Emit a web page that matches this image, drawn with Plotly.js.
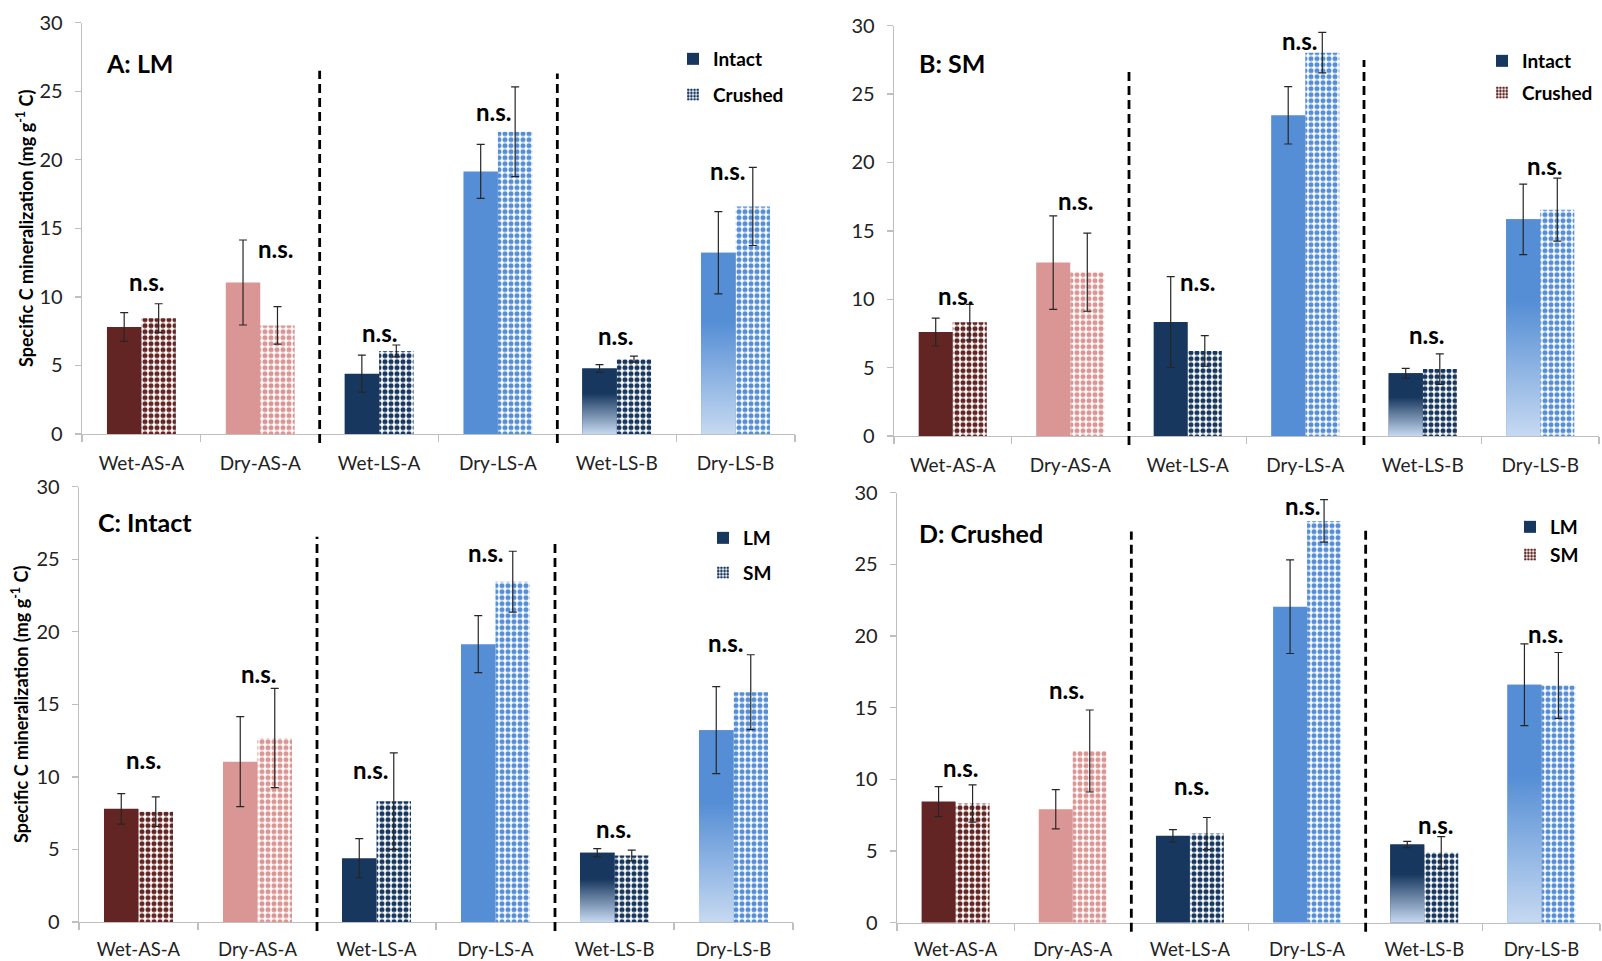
<!DOCTYPE html>
<html><head><meta charset="utf-8">
<script src="https://cdn.plot.ly/plotly-3.0.1.min.js"></script>
<style>html,body{margin:0;padding:0;background:#fff;} #chart{width:1602px;height:961px;}</style>
</head><body><div id="chart"></div>
<script>
// ---------- data ----------
const categories = ['Wet-AS-A','Dry-AS-A','Wet-LS-A','Dry-LS-A','Wet-LS-B','Dry-LS-B'];
const lmIntact     = [7.8, 11.05, 4.4, 19.15, 4.78, 13.22];
const lmIntactErr  = [1.05, 3.1, 1.35, 1.97, 0.28, 3.0];
const lmCrushed    = [8.45, 7.92, 6.06, 22.05, 5.46, 16.6];
const lmCrushedErr = [1.05, 1.37, 0.43, 3.27, 0.22, 2.85];
const smIntact     = [7.6, 12.68, 8.33, 23.45, 4.58, 15.84];
const smIntactErr  = [1.02, 3.42, 3.32, 2.1, 0.37, 2.58];
const smCrushed    = [8.32, 11.98, 6.22, 28.03, 4.89, 16.55];
const smCrushedErr = [1.3, 2.86, 1.12, 1.48, 1.12, 2.3];
const yTicks = [0, 5, 10, 15, 20, 25, 30];
const sigLabel = 'n.s.';

// ---------- styling ----------
const W = 1602, H = 961;
const FONT = 'Lato, "Open Sans", sans-serif';
const catColors = ['#632523', '#D99694', '#17375E', '#558ED5', '#17375E', '#558ED5'];
const gradientCats = [false, false, false, false, true, true];
const LIGHT = '#C6D9F1';
const AXC = '#BFBFBF';
const BW = 0.29;

const panels = [
  {sfx:'', title:'A: LM', s1:lmIntact, e1:lmIntactErr, s2:lmCrushed, e2:lmCrushedErr,
   n1:'Intact', n2:'Crushed', legColor:'#17375E', legend:'legend',
   xpx:[82, 795], ypx:[434, 22.7], titlePx:[104, 63], ytitlePx:[25, 229], catFont:19, catStand:12,
   nsX:[0.04, 0.125, 0.0, -0.04, -0.01, -0.07], nsY:[11.1, 13.5, 7.4, 23.5, 7.15, 19.2], sepTop:[26.5, 26.3]},
  {sfx:'2', title:'B: SM', s1:smIntact, e1:smIntactErr, s2:smCrushed, e2:smCrushedErr,
   n1:'Intact', n2:'Crushed', legColor:'#632523', legend:'legend2',
   xpx:[894, 1599], ypx:[436, 25.7], titlePx:[917, 63], ytitlePx:null, catFont:19, catStand:12,
   nsX:[0.02, 0.045, 0.087, -0.05, 0.03, 0.04], nsY:[10.3, 17.2, 11.3, 28.95, 7.43, 19.76], sepTop:[26.9, 27.5]},
  {sfx:'3', title:'C: Intact', s1:lmIntact, e1:lmIntactErr, s2:smIntact, e2:smIntactErr,
   n1:'LM', n2:'SM', legColor:'#17375E', legend:'legend3',
   xpx:[79, 793], ypx:[922, 486.7], titlePx:[96, 522], ytitlePx:[20, 705], catFont:18.5, catStand:10,
   nsX:[0.04, 0.01, -0.05, -0.085, -0.01, -0.07], nsY:[11.2, 17.1, 10.5, 25.5, 6.46, 19.25], sepTop:[26.55, 26.3]},
  {sfx:'4', title:'D: Crushed', s1:lmCrushed, e1:lmCrushedErr, s2:smCrushed, e2:smCrushedErr,
   n1:'LM', n2:'SM', legColor:'#632523', legend:'legend4',
   xpx:[897, 1600], ypx:[922.7, 492.7], titlePx:[917, 533], ytitlePx:null, catFont:18.5, catStand:10,
   nsX:[0.046, -0.053, 0.016, -0.042, 0.094, 0.034], nsY:[10.8, 16.25, 9.55, 29.1, 6.82, 20.2], sepTop:[27.3, 27.5]}
];
const legendPos = {
  legend:  {textX:713,  top:40,  gap:8},
  legend2: {textX:1522, top:42,  gap:4},
  legend3: {textX:743,  top:519, gap:7},
  legend4: {textX:1550, top:508, gap:0}
};

const idx = categories.map((c, i) => i);
const traces = [];
const layout = {
  width: W, height: H, margin: {l:0, r:0, t:0, b:0},
  paper_bgcolor: '#fff', plot_bgcolor: 'rgba(0,0,0,0)',
  barmode: 'overlay', showlegend: true,
  font: {family: FONT, color: '#222'},
  annotations: [], shapes: []
};

panels.forEach(p => {
  const xa = 'x' + p.sfx, ya = 'y' + p.sfx;
  const xd = [p.xpx[0] / W, p.xpx[1] / W];
  const yd = [1 - p.ypx[0] / H, 1 - p.ypx[1] / H];
  const pxX = v => xd[0] + (v + 0.5) / 6 * (xd[1] - xd[0]);
  const pxY = v => yd[0] + v / 30 * (yd[1] - yd[0]);

  traces.push({type:'bar', x: idx, y: p.s1, xaxis: xa, yaxis: ya, offset: -BW, width: BW,
    marker: {color: catColors, line: {width: 0}}, showlegend: false, hoverinfo: 'skip'});
  traces.push({type:'bar', x: idx, y: p.s2, xaxis: xa, yaxis: ya, offset: 0, width: BW,
    marker: {color: catColors, line: {width: 0},
      pattern: {shape: '.', size: 6, solidity: 0.55, fgcolor: catColors, bgcolor: '#ffffff', fillmode: 'replace'}},
    showlegend: false, hoverinfo: 'skip'});
  idx.forEach(i => {
    if (!gradientCats[i]) return;
    const v = p.s1[i];
    traces.push({type:'scatter', mode:'lines', xaxis: xa, yaxis: ya,
      x: [i - BW, i - BW, i, i, i - BW], y: [0, v, v, 0, 0],
      fill: 'toself', line: {width: 0, color: catColors[i]},
      fillgradient: {type: 'vertical', colorscale: [[0, LIGHT], [0.62, catColors[i]], [1, catColors[i]]], start: 0, stop: v},
      showlegend: false, hoverinfo: 'skip'});
  });
  [[p.s1, p.e1, -BW / 2], [p.s2, p.e2, BW / 2]].forEach(([s, e, off]) => {
    traces.push({type:'scatter', mode:'markers', xaxis: xa, yaxis: ya,
      x: idx.map(i => i + off), y: s,
      marker: {size: 1, color: 'rgba(0,0,0,0)'},
      error_y: {type: 'data', array: e, visible: true, color: '#262626', thickness: 1.2, width: 4},
      showlegend: false, hoverinfo: 'skip'});
  });
  traces.push({type:'bar', x:[null], y:[null], xaxis: xa, yaxis: ya, name: '<b>' + p.n1 + '</b>',
    marker: {color: '#17375E', line: {width: 0}}, legend: p.legend, legendgroup: p.legend + 'a', hoverinfo: 'skip'});
  traces.push({type:'bar', x:[null], y:[null], xaxis: xa, yaxis: ya, name: '<b>' + p.n2 + '</b>',
    marker: {color: p.legColor, line: {width: 0},
      pattern: {shape: '.', size: 4, solidity: 0.55, fgcolor: p.legColor, bgcolor: '#ffffff', fillmode: 'replace'}},
    legend: p.legend, legendgroup: p.legend + 'b', hoverinfo: 'skip'});

  const lp = legendPos[p.legend];
  layout[p.legend] = {x: (lp.textX - 40) / W, y: 1 - lp.top / H, xanchor: 'left', yanchor: 'top',
    bgcolor: 'rgba(0,0,0,0)', borderwidth: 0, traceorder: 'grouped', tracegroupgap: lp.gap,
    itemwidth: 30, font: {family: FONT, size: 19, color: '#000'}};

  layout['xaxis' + p.sfx] = {domain: xd, anchor: ya, range: [-0.5, 5.5],
    tickmode: 'array', tickvals: idx, ticktext: categories, ticks: '', ticklabelstandoff: p.catStand,
    tickfont: {family: FONT, size: p.catFont, color: '#222'},
    minor: {tickmode: 'array', tickvals: [-0.5, 0.5, 1.5, 2.5, 3.5, 4.5, 5.5], ticks: 'outside', ticklen: 7,
            tickcolor: AXC, tickwidth: 1.3, showgrid: false},
    showline: true, linecolor: AXC, linewidth: 1.3, showgrid: false, zeroline: false, fixedrange: true};
  layout['yaxis' + p.sfx] = {domain: yd, anchor: xa, range: [0, 30], tickmode: 'array', tickvals: yTicks,
    ticks: 'outside', ticklen: 6, tickcolor: AXC, tickwidth: 1.3, showline: true, linecolor: AXC, linewidth: 1.3,
    showgrid: false, zeroline: false, fixedrange: true, ticklabelstandoff: 8,
    tickfont: {family: FONT, size: 20, color: '#222'}};

  layout.annotations.push({xref:'paper', yref:'paper', x: p.titlePx[0] / W, y: 1 - p.titlePx[1] / H,
    xanchor:'left', yanchor:'middle', showarrow:false, text:'<b>' + p.title + '</b>',
    font:{family: FONT, size: 25, color:'#000'}});
  if (p.ytitlePx) {
    layout.annotations.push({xref:'paper', yref:'paper', x: p.ytitlePx[0] / W, y: 1 - p.ytitlePx[1] / H,
      xanchor:'center', yanchor:'middle', showarrow:false, textangle:-90,
      text:'<b>Specific C mineralization (mg g<sup>-1</sup> C)</b>', font:{family: FONT, size: 18, color:'#000'}});
  }
  idx.forEach(i => {
    layout.annotations.push({xref: xa, yref: ya, x: i + p.nsX[i], y: p.nsY[i], xanchor:'center', yanchor:'middle',
      showarrow:false, text:'<b>' + sigLabel + '</b>', font:{family: FONT, size: 24, color:'#000'}});
  });
  [1.5, 3.5].forEach((b, k) => {
    layout.shapes.push({type:'line', xref:'paper', yref:'paper', x0: pxX(b), x1: pxX(b),
      y0: yd[0] - 9 / H, y1: pxY(p.sepTop[k]), line:{color:'#000', width:2.8, dash:'9px,5px'}});
  });
});

Plotly.newPlot('chart', traces, layout, {staticPlot: true, displayModeBar: false});
</script>
</body></html>
